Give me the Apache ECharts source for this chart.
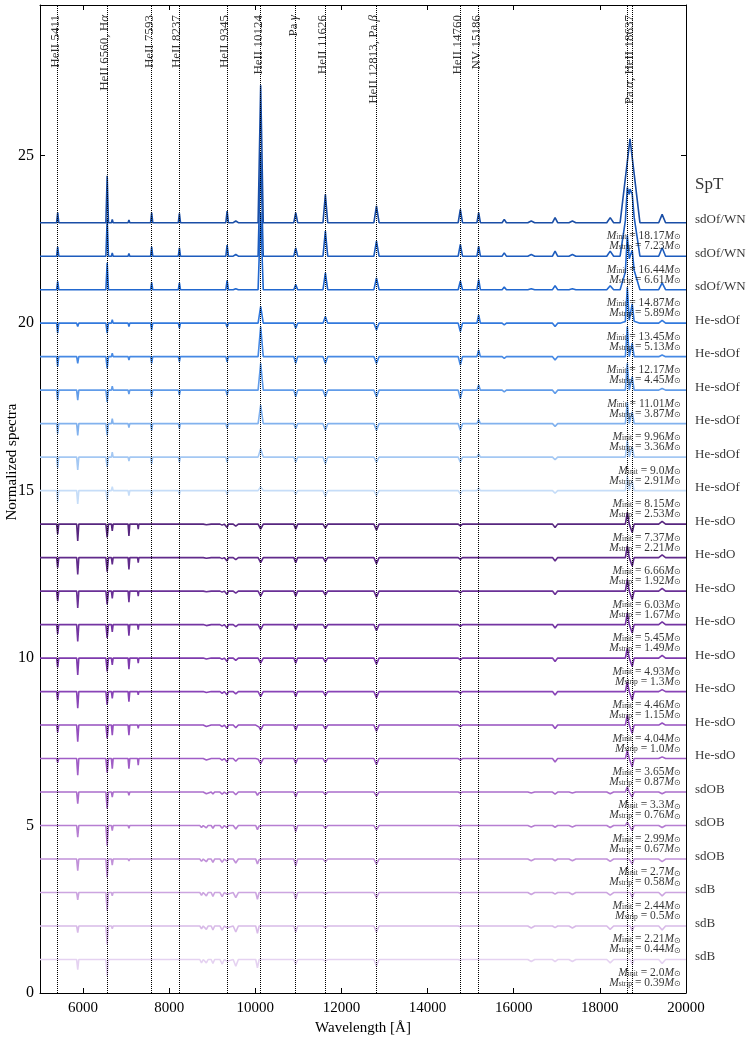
<!DOCTYPE html>
<html>
<head>
<meta charset="utf-8">
<script src="https://cdn.jsdelivr.net/npm/echarts@6/dist/echarts.min.js"></script>
<style>html,body{margin:0;padding:0;background:#fff}#c{width:748px;height:1040px}</style>
</head>
<body>
<div id="c"></div>
<script>
// ---------------- data ----------------
const xTicks = [6000, 8000, 10000, 12000, 14000, 16000, 18000, 20000];
const yTicks = [0, 5, 10, 15, 20, 25];

// vertical reference lines and their labels
const refLineWaves = [5411, 6560, 7593, 8237, 9345, 10124, 10938, 11626, 12813, 14760, 15186, 18637, 18751];
const refLabelWaves = [5411, 6560, 7593, 8237, 9345, 10124, 10938, 11626, 12813, 14760, 15186, 18751];
const refLabelTexts = ['HeII 5411', 'HeII 6560, H{g|α}', 'HeII 7593', 'HeII 8237', 'HeII 9345', 'HeII 10124',
  'Pa {g|γ}', 'HeII 11626', 'HeII 12813, Pa {g|β}', 'HeII 14760', 'NV 15186', 'Pa {g|α}, HeII 18637'];

// spectral features (centre wavelength, half width at base)
const featureWaves      = [5411,5876,6560,6678,7065,7281,7593,8237,8750,8863,9015,9229,9345,9546,10049,10124,10938,11626,12813,14760,15186,15780,16407,16960,17362,18240,18637,18700,18751,19446];
const featureHalfWidths = [  25,  25,  30,  20,  20,  15,  25,  25,  40,  40,  40,  50,  30,  60,   40,   60,   45,   55,   60,   50,   40,   50,   80,   60,   80,   80,   45,  230,   45,   80];

// feature amplitudes per spectrum, top (offset 23) to bottom (offset 1)
const s23 = [0.30,0,1.40,0.10,0.08,0,0.30,0.28,0,0,0.05,0,0.35,0.05,0,4.10,0.30,0.85,0.50,0.40,0.30,0.10,0.05,0.15,0.05,0.15,0,2.50,0,0.25];
const s22 = [0.28,0,1.10,0.10,0.08,0,0.28,0.25,0,0,0.05,0,0.33,0.05,0,3.10,0.25,0.75,0.45,0.35,0.30,0.10,0.05,0.15,0.05,0.15,0.60,2.00,0.30,0.25];
const s21 = [0.25,0,0.80,0.05,0.05,0,0.22,0.20,0,0,0.03,0,0.28,0.03,0,2.30,0.15,0.50,0.35,0.25,0.30,0.08,0.03,0.12,0.03,0.12,0.90,1.00,0.40,0.20];
const s20 = [-0.30,-0.10,-0.30,0.10,-0.10,0,-0.20,-0.15,0,0,0,0,-0.12,0,0,0.50,-0.15,0.20,-0.20,-0.25,0.25,-0.05,0,-0.10,0,0,1.00,0.10,0.50,0.08];
const s19 = [-0.30,-0.20,-0.35,0.10,-0.10,0,-0.20,-0.15,0,0,0,0,-0.15,0,0,0.90,-0.20,-0.20,-0.20,-0.25,0.20,-0.05,0,-0.10,0,0,0.90,0,0.40,0.05];
const s18 = [-0.30,-0.30,-0.35,0.12,-0.12,0,-0.20,-0.15,0,0,0,0,-0.15,0,0,0.80,-0.20,-0.20,-0.20,-0.25,0.15,-0.05,0,-0.10,0,0,0.80,0,0.40,0.05];
const s17 = [-0.30,-0.35,-0.35,0.15,-0.12,-0.05,-0.20,-0.15,0,0,0,0,-0.15,0,0,0.55,-0.15,-0.20,-0.20,-0.20,0.12,0,0,-0.08,0,0,0.65,0,0.35,0];
const s16 = [-0.33,-0.38,-0.30,0.15,-0.12,-0.05,-0.20,-0.15,0,0,0,0,-0.15,0,0,0.25,-0.15,-0.20,-0.15,-0.15,0.10,0,0,-0.08,0,0,0.50,0,0.30,0];
const s15 = [-0.33,-0.40,-0.30,0.12,-0.15,-0.05,-0.15,-0.12,0,0,0,0,-0.12,0,0,0.12,-0.12,-0.18,-0.15,-0.10,0.08,0,0,-0.08,0,0,0.45,0,0.30,0];
const s14 = [-0.30,-0.50,-0.40,-0.20,-0.35,-0.15,-0.03,-0.05,-0.02,-0.02,-0.03,-0.03,-0.10,-0.06,0,-0.15,-0.15,-0.12,-0.18,-0.05,-0.03,0,0,-0.10,0,0,0.35,0,-0.25,0.08];
const s13 = [-0.30,-0.50,-0.42,-0.20,-0.35,-0.15,-0.03,-0.05,-0.02,-0.02,-0.03,-0.03,-0.10,-0.06,0,-0.15,-0.15,-0.12,-0.18,-0.05,-0.03,0,0,-0.10,0,0,0.35,0,-0.25,0.08];
const s12 = [-0.30,-0.50,-0.40,-0.22,-0.33,-0.15,-0.03,-0.05,-0.02,-0.02,-0.03,-0.03,-0.10,-0.06,0,-0.15,-0.15,-0.12,-0.18,-0.05,-0.03,0,0,-0.10,0,0,0.35,0,-0.25,0.08];
const s11 = [-0.28,-0.50,-0.40,-0.22,-0.33,-0.15,-0.03,-0.05,-0.02,-0.03,-0.03,-0.04,-0.10,-0.06,0,-0.15,-0.15,-0.12,-0.18,-0.05,-0.03,0,0,-0.10,0,0,0.35,0,-0.25,0.08];
const s10 = [-0.28,-0.50,-0.40,-0.20,-0.33,-0.15,-0.03,-0.05,-0.03,-0.03,-0.04,-0.04,-0.10,-0.07,0,-0.15,-0.15,-0.12,-0.18,-0.05,-0.03,0,0,-0.10,0,0,0.30,0,-0.25,0.08];
const s9  = [-0.25,-0.50,-0.40,-0.20,-0.30,-0.10,-0.03,-0.05,-0.03,-0.03,-0.04,-0.05,-0.10,-0.07,0,-0.15,-0.15,-0.12,-0.18,-0.05,-0.03,0,0,-0.10,0,0,0.30,0,-0.25,0.06];
const s8  = [-0.22,-0.50,-0.40,-0.30,-0.30,-0.10,-0.03,-0.05,-0.04,-0.04,-0.05,-0.05,-0.10,-0.08,-0.02,-0.15,-0.15,-0.12,-0.18,-0.05,-0.03,0,0,-0.10,0,0,0.30,0,-0.25,0.06];
const s7  = [-0.12,-0.50,-0.42,-0.30,-0.30,-0.20,-0.03,-0.05,-0.04,-0.04,-0.05,-0.05,-0.10,-0.08,-0.03,-0.15,-0.15,-0.12,-0.18,-0.05,-0.03,0,0,-0.10,0,0,0.25,0,-0.25,0.05];
const s6  = [-0.05,-0.35,-0.50,-0.15,-0.10,-0.05,-0.02,-0.03,-0.05,-0.05,-0.06,-0.06,-0.06,-0.08,-0.10,-0.05,-0.15,-0.08,-0.12,-0.03,-0.02,0,-0.03,-0.06,-0.03,-0.05,0.15,0,-0.15,-0.05];
const s5  = [-0.03,-0.35,-0.60,-0.15,-0.08,-0.03,-0.02,-0.03,-0.06,-0.07,-0.08,-0.08,-0.06,-0.10,-0.12,-0.03,-0.18,-0.08,-0.13,-0.03,-0.02,0,-0.04,-0.05,-0.04,-0.06,0.10,0,-0.15,-0.06];
const s4  = [-0.02,-0.35,-0.55,-0.18,-0.06,-0.03,-0.02,-0.03,-0.07,-0.08,-0.10,-0.10,-0.06,-0.12,-0.15,-0.03,-0.20,-0.08,-0.15,-0.03,-0.02,0,-0.05,-0.05,-0.05,-0.07,0.05,0,-0.15,-0.08];
const s3  = [0,-0.22,-0.55,-0.10,-0.04,0,0,-0.02,-0.08,-0.10,-0.12,-0.12,-0.05,-0.15,-0.20,0,-0.20,-0.05,-0.15,-0.02,-0.02,0,-0.06,-0.05,-0.06,-0.08,0,0,-0.15,-0.10];
const s2  = [0,-0.20,-0.55,-0.08,-0.03,0,0,-0.02,-0.08,-0.10,-0.12,-0.12,-0.05,-0.18,-0.22,0,-0.18,-0.05,-0.18,-0.02,-0.02,0,-0.06,-0.05,-0.06,-0.10,0,0,-0.15,-0.12];
const s1  = [0,-0.30,-0.50,-0.05,-0.03,0,0,-0.02,-0.10,-0.10,-0.12,-0.14,-0.05,-0.20,-0.25,0,-0.15,-0.05,-0.20,-0.02,-0.02,0,-0.06,-0.06,-0.06,-0.10,0,0,-0.15,-0.12];

const spectraAmps = [s23,s22,s21,s20,s19,s18,s17,s16,s15,s14,s13,s12,s11,s10,s9,s8,s7,s6,s5,s4,s3,s2,s1];
const offsets = [23,22,21,20,19,18,17,16,15,14,13,12,11,10,9,8,7,6,5,4,3,2,1];
const spectralTypes = ['sdOf/WN','sdOf/WN','sdOf/WN','He-sdOf','He-sdOf','He-sdOf','He-sdOf','He-sdOf','He-sdOf',
  'He-sdO','He-sdO','He-sdO','He-sdO','He-sdO','He-sdO','He-sdO','He-sdO','sdOB','sdOB','sdOB','sdB','sdB','sdB'];
const massInit  = ['18.17','16.44','14.87','13.45','12.17','11.01','9.96','9.0','8.15','7.37','6.66','6.03','5.45','4.93','4.46','4.04','3.65','3.3','2.99','2.7','2.44','2.21','2.0'];
const massStrip = ['7.23','6.61','5.89','5.13','4.45','3.87','3.36','2.91','2.53','2.21','1.92','1.67','1.49','1.3','1.15','1.0','0.87','0.76','0.67','0.58','0.5','0.44','0.39'];
const colors = ['#1a4ea6','#1d5cbd','#2268cf','#3279dd','#4689e4','#619ce9','#82b2ee','#a4c8f3','#c6ddf8',
  '#57267f','#612b8b','#6a3096','#7435a2','#7e3aad','#8944b7','#954fbf','#a05dc6','#ab6dcc','#b67ed2','#c191d9','#cca5e0','#d8bae8','#e5d2f1'];

// ---------------- build ----------------
const X_MIN = 5000, X_MAX = 20000, Y_MAX = 29.5;
const FONT = 'Liberation Serif';

function buildSpectrum(offset, amps) {
  const xs = new Set([X_MIN, X_MAX]);
  featureWaves.forEach((w, i) => {
    if (amps[i] !== 0) { const h = featureHalfWidths[i]; xs.add(w - h); xs.add(w); xs.add(w + h); }
  });
  return [...xs].sort((a, b) => a - b).map(x => {
    let y = offset;
    featureWaves.forEach((w, i) => {
      const d = Math.abs(x - w) / featureHalfWidths[i];
      if (d < 1) y += amps[i] * (1 - d);
    });
    return [x, +y.toFixed(4)];
  });
}

const series = [];
// dotted reference lines (beneath the spectra)
series.push({
  type: 'line', data: [], silent: true, animation: false, z: 1,
  markLine: {
    symbol: 'none', silent: true, animation: false,
    lineStyle: { type: 'dotted', color: '#000', width: 1 },
    label: { show: false },
    data: refLineWaves.map(w => ({ xAxis: w }))
  }
});
for (let i = spectraAmps.length - 1; i >= 0; i--) {
  series.push({
    type: 'line', showSymbol: false, silent: true, animation: false, z: 2,
    data: buildSpectrum(offsets[i], spectraAmps[i]),
    lineStyle: { color: colors[i], width: 1.6 }, itemStyle: { color: colors[i] }
  });
}
// top line labels
series.push({
  type: 'scatter', symbolSize: 0, silent: true, animation: false, clip: false, z: 5,
  data: refLabelWaves.map(w => [w, 29.2]),
  label: {
    show: true, position: [0, 0], rotate: 90, align: 'right', verticalAlign: 'middle', offset: [0, -2.5],
    formatter: p => refLabelTexts[p.dataIndex],
    fontFamily: FONT, fontSize: 13, color: '#000',
    rich: { g: { fontFamily: FONT, fontStyle: 'italic', fontSize: 13, color: '#000' } }
  }
});
// mass labels
series.push({
  type: 'scatter', symbolSize: 0, silent: true, animation: false, clip: false, z: 6,
  data: offsets.map(o => [X_MAX, o - 0.55]),
  label: {
    show: true, position: 'left', distance: 5, align: 'right', color: '#000',
    formatter: p => '{m|M}{s|init}{t| = ' + massInit[p.dataIndex] + '}{m|M}{o|⊙}\n{m|M}{s|strip}{t| = ' + massStrip[p.dataIndex] + '}{m|M}{o|⊙}',
    rich: {
      m: { fontFamily: FONT, fontStyle: 'italic', fontSize: 11.5, lineHeight: 10, color: '#000' },
      t: { fontFamily: FONT, fontSize: 11.5, lineHeight: 10, color: '#000' },
      s: { fontFamily: FONT, fontSize: 7.5, lineHeight: 10, verticalAlign: 'bottom', padding: [3, 0, 0, 0], color: '#000' },
      o: { fontFamily: FONT, fontSize: 8, lineHeight: 10, verticalAlign: 'bottom', padding: [3, 0, 0, 0], color: '#000' }
    }
  }
});
// spectral type labels
series.push({
  type: 'scatter', symbolSize: 0, silent: true, animation: false, clip: false, z: 6,
  data: offsets.map(o => [X_MAX, o + 0.08]),
  label: {
    show: true, position: 'right', distance: 9, color: '#000',
    formatter: p => spectralTypes[p.dataIndex], fontFamily: FONT, fontSize: 13
  }
});
series.push({
  type: 'scatter', symbolSize: 0, silent: true, animation: false, clip: false, z: 6,
  data: [[X_MAX, 24.15]],
  label: { show: true, position: 'right', distance: 9, color: '#000', formatter: 'SpT', fontFamily: FONT, fontSize: 17 }
});

const axisCommon = {
  axisLine: { show: true, onZero: false, lineStyle: { color: '#000', width: 1 } },
  splitLine: { show: false }
};

const option = {
  backgroundColor: '#fff',
  animation: false,
  grid: { left: 40, right: 62, top: 5, bottom: 47, containLabel: false, outerBoundsMode: 'none' },
  xAxis: [
    Object.assign({}, axisCommon, {
      type: 'value', min: X_MIN, max: X_MAX, position: 'bottom',
      axisTick: { inside: true, length: 5, customValues: xTicks, lineStyle: { color: '#000' } },
      axisLabel: { customValues: xTicks, formatter: v => String(v), color: '#000', fontSize: 15, fontFamily: FONT, margin: 8 },
      name: 'Wavelength [Å]', nameLocation: 'middle', nameGap: 26,
      nameTextStyle: { color: '#000', fontSize: 15, fontFamily: FONT }
    }),
    Object.assign({}, axisCommon, {
      type: 'value', min: X_MIN, max: X_MAX, position: 'top',
      axisTick: { inside: true, length: 5, customValues: xTicks, lineStyle: { color: '#000' } },
      axisLabel: { show: false }
    })
  ],
  yAxis: [
    Object.assign({}, axisCommon, {
      type: 'value', min: 0, max: Y_MAX, position: 'left',
      axisTick: { inside: true, length: 5, customValues: yTicks, lineStyle: { color: '#000' } },
      axisLabel: { customValues: yTicks, formatter: v => String(v), color: '#000', fontSize: 16, fontFamily: FONT, margin: 6 }
    }),
    Object.assign({}, axisCommon, {
      type: 'value', min: 0, max: Y_MAX, position: 'right',
      axisTick: { inside: true, length: 5, customValues: yTicks, lineStyle: { color: '#000' } },
      axisLabel: { show: false }
    })
  ],
  graphic: [{
    type: 'text', x: 5, y: 462, rotation: Math.PI / 2,
    style: { text: 'Normalized spectra', fontFamily: FONT, fontSize: 15, fill: '#000', align: 'center', verticalAlign: 'top' }
  }],
  series: series
};

const chart = echarts.init(document.getElementById('c'), null, { renderer: 'canvas' });
chart.setOption(option);
</script>
</body>
</html>
